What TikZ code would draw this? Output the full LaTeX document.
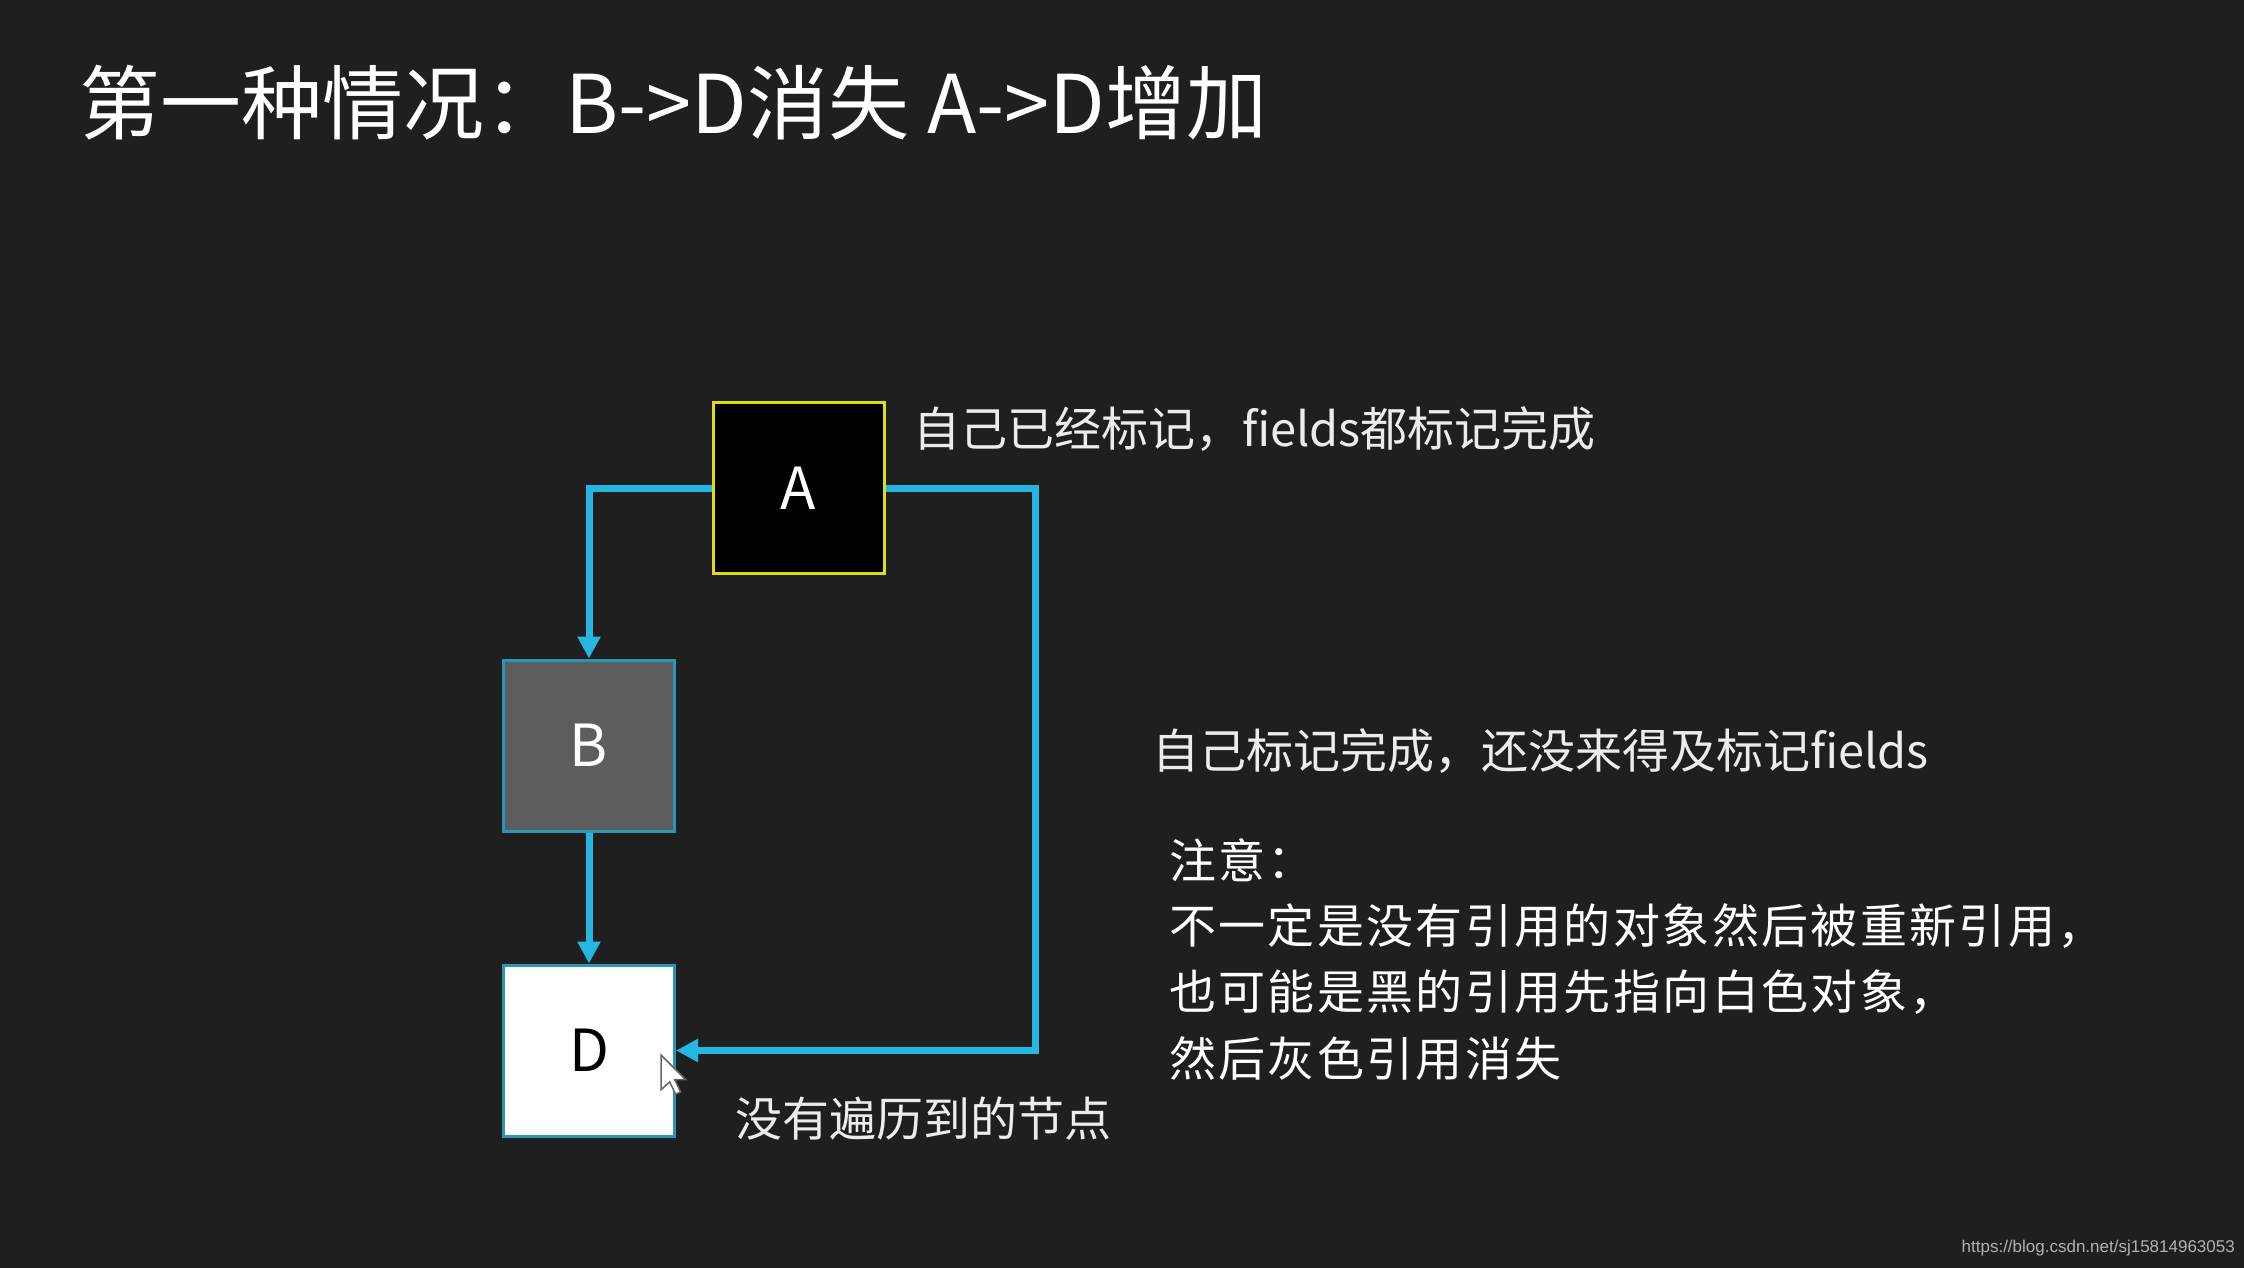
\documentclass[tikz,border=0pt]{standalone}
\usepackage{fontspec}
\setmainfont{Noto Sans CJK SC}
\newfontfamily\notefont[LetterSpace=5]{Noto Sans CJK SC}
\newfontfamily\urlfont{Liberation Sans}
\usetikzlibrary{arrows.meta}
\definecolor{bgc}{RGB}{30,31,30}
\definecolor{linec}{RGB}{38,182,226}
\definecolor{yelc}{RGB}{222,222,20}
\definecolor{grayc}{RGB}{92,93,92}
\definecolor{bordc}{RGB}{40,150,185}
\definecolor{txtc}{RGB}{236,236,236}
\begin{document}
\begin{tikzpicture}[x=1pt,y=-1pt,
  box/.style={minimum width=171pt,minimum height=171pt,inner sep=0pt,line width=3pt,
    font=\fontsize{58}{60}\selectfont},
  conn/.style={draw=linec,line width=7pt,-{Triangle[length=22pt,width=22pt]}},
  lbl/.style={anchor=west,inner sep=0pt,text=txtc,font=\fontsize{47}{56}\selectfont},
  note/.style={anchor=west,inner sep=0pt,text=white,font=\notefont\fontsize{47}{56}\selectfont}]
\fill[bgc] (0,0) rectangle (2244,1268);
\useasboundingbox (0,0) rectangle (2244,1268);
% title
\node[anchor=west,inner sep=0pt,text=white,font=\fontsize{81}{90}\selectfont] (title) at (79,103) {第一种情况：B->D消失 A->D增加};
% boxes
\node[box,draw=yelc,fill=black,text=white] (A) at (798.5,488) {A};
\node[box,draw=bordc,fill=grayc,text=white] (B) at (589,745.5) {B};
\node[box,draw=bordc,fill=white,text=black] (D) at (589,1050.5) {D};
\coordinate (R) at (1035,1050.5);
% connectors
\draw[conn] (A.west) -| (B.north);
\draw[conn] (B.south) -- (D.north);
\draw[conn] (A.east) -| (R) -- (D.east);
% cursor
\coordinate (cur) at (661,1055);
\draw[fill=white,draw=black!60,line width=1.5pt,shift={(cur)},scale=1.45]
  (0,0) -- (0,24) -- (6,18.5) -- (10,27) -- (13.5,25.5) -- (9.5,17) -- (17,17) -- cycle;
% labels
\node[lbl] (la) at (913,429) {自己已经标记，fields都标记完成};
\node[lbl] (lb) at (1152,751) {自己标记完成，还没来得及标记fields};
\node[lbl] (ld) at (735,1119) {没有遍历到的节点};
\node[note] (n0) at (1169,860) {注意：};
\node[note] (n1) at (1169,926) {不一定是没有引用的对象然后被重新引用，};
\node[note] (n2) at (1169,992) {也可能是黑的引用先指向白色对象，};
\node[note] (n3) at (1169,1059) {然后灰色引用消失};
\node[anchor=east,inner sep=0pt,text=black!30,font=\urlfont\fontsize{17}{20}\selectfont] (url) at (2235,1248) {https://blog.csdn.net/sj15814963053};
\end{tikzpicture}
\end{document}
